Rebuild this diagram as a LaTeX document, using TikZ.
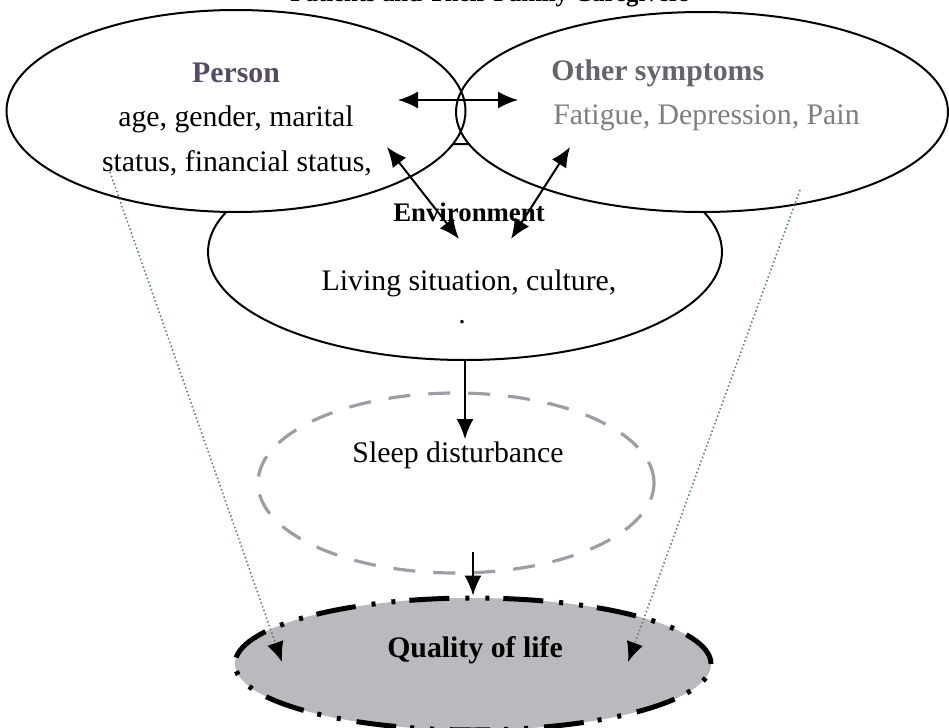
\documentclass[tikz,border=0pt]{standalone}
\usepackage{fontspec}
\setmainfont{Liberation Serif}
\usetikzlibrary{shapes.geometric,arrows.meta}

\definecolor{persontext}{RGB}{85,75,100}
\definecolor{symtext}{RGB}{100,100,108}
\definecolor{fattext}{RGB}{125,125,132}
\definecolor{sleepline}{RGB}{158,156,164}
\definecolor{qolfill}{RGB}{186,186,190}
\definecolor{dotline}{RGB}{80,125,125}

\begin{document}
\begin{tikzpicture}[x=0.5pt,y=-0.5pt,
  bubble/.style={ellipse,draw,line width=1pt,inner sep=0pt},
  txt/.style={font=\fontsize{14.9}{17}\selectfont,inner sep=1pt},
  boldtxt/.style={font=\fontsize{14.9}{17}\selectfont\bfseries,inner sep=1pt},
  arr/.style={-{Latex[length=10pt,width=8.5pt]},line width=1pt},
  dbl/.style={{Latex[length=10pt,width=8.5pt]}-{Latex[length=10pt,width=8.5pt]},line width=1pt},
  link/.style={-{Latex[length=10pt,width=8.5pt,color=black]},dotline,line width=0.8pt,dash pattern=on 0.7pt off 1.3pt}]

\useasboundingbox (0,0) rectangle (949,728);
\clip (0,0) rectangle (949,728);

%%%%%%%%%%%%%%%%%%%%%%%%%%%%%%%%%%%%%%%%%%%%%%%%%%%%%%%%%%%%%%%%%
\node [font=\fontsize{12.4}{14}\selectfont\bfseries,anchor=base,inner sep=0pt] (title) at (490,2) {Patients and Their Family Caregivers};

%%%%%%%%%%%%%%%%%%%%%%%%%%%%%%
\node [bubble,fill=white,minimum width=257pt,minimum height=108pt] (env) at (465,252) {};

\fill [white] (236,111) ellipse [x radius=114.75pt,y radius=50.5pt];
\fill [white] (702,112) ellipse [x radius=123pt,y radius=50pt];

\node [bubble,minimum width=229.5pt,minimum height=101pt] (person) at (236,111) {};
\node [bubble,minimum width=246pt,minimum height=100pt] (other) at (702,112) {};

\node [boldtxt,persontext] (personlbl) at (236,73) {Person};
\node [txt] (age) at (236,119) {age, gender, marital};
\node [txt] (status) at (237,163) {status, financial status,};

\node [boldtxt,symtext,anchor=west] (otherlbl) at (549,73) {Other symptoms};
\node [txt,fattext,anchor=west] (fatigue) at (551,118) {Fatigue, Depression, Pain};

\node [boldtxt,font=\fontsize{13.4}{15}\selectfont\bfseries] (envlbl) at (469,212) {Environment};
\node [txt] (living) at (469,283) {Living situation, culture,};
\node [txt,inner sep=0pt] (envdot) at (462,322) {.};

%%%%%%%%%%%%%%%%%%%%%%%%%%%%%%
\coordinate (hl) at (398,100);
\coordinate (hr) at (518,100);
\draw [dbl] (hl) -- (hr);

\coordinate (pl) at (387,147);
\coordinate (el) at (459,239);
\draw [dbl] (pl) -- (el);

\coordinate (ol) at (570,147);
\coordinate (er) at (511,239);
\draw [dbl] (ol) -- (er);

%%%%%%%%%%%%%%%%%%%%%%%%%%%%%%
\node [bubble,draw=sleepline,line width=1.6pt,dash pattern=on 11pt off 9pt,minimum width=198pt,minimum height=90pt] (sleep) at (456,483) {};
\node [txt] (sleeplbl) at (458,455) {Sleep disturbance};
\draw [arr] (env.south) -- (env.south |- sleeplbl.north);

\node [bubble,fill=qolfill,line width=2.5pt,dash pattern=on 20pt off 7pt on 2pt off 8pt on 2pt off 8pt,minimum width=238pt,minimum height=66pt] (quality) at (473,664) {};
\node [boldtxt] (qollbl) at (475,650) {Quality of life};

\coordinate (sq) at (473,552);
\draw [arr] (sq) -- (quality.north);

%%%%%%%%%%%%%%%%%%%%%%%%%%%%%%
\coordinate (pd) at (110,172);
\coordinate (qdl) at (282,662);
\draw [link] (pd) -- (qdl);

\coordinate (od) at (800,190);
\coordinate (qdr) at (628,662);
\draw [link] (od) -- (qdr);

%%%%%%%%%%%%%%%%%%%%%%%%%%%%%%%%%%%%%%%%%%%%%%%%%%%%%%%%%%%%%%%%%

\end{tikzpicture}
\end{document}
